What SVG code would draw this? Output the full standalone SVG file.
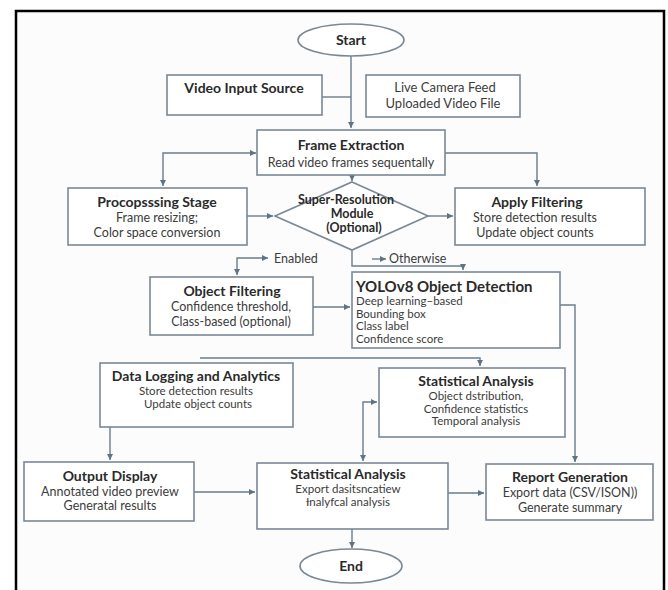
<svg xmlns="http://www.w3.org/2000/svg" width="668" height="590" viewBox="0 0 668 590">
<defs>
<marker id="ah" markerWidth="6" markerHeight="6" refX="6" refY="3" orient="auto-start-reverse" markerUnits="userSpaceOnUse"><path d="M0,0 L6,3 L0,6 z" fill="#5f7383"/></marker>
<style>
.box{fill:#fff;stroke:#7a8894;stroke-width:1.6}
.ln{fill:none;stroke:#6a7d8c;stroke-width:1.4}
.t{font-family:Lato,"Open Sans",sans-serif;font-weight:700;font-size:14px;fill:#2a2a2a;text-anchor:middle}
.s{font-family:Lato,"Open Sans",sans-serif;font-size:12.5px;fill:#3c3c3c;text-anchor:middle}
.c{font-size:11.5px}
.l{text-anchor:start}
</style>
</defs>
<rect x="0" y="0" width="668" height="590" fill="#ffffff"/>
<rect x="16" y="11" width="648" height="600" fill="#fcfcfc" stroke="#000" stroke-width="2.5"/>

<g id="connectors">
<path class="ln" d="M351,56 V128" marker-end="url(#ah)"/>
<path class="ln" d="M322,97 H351"/>
<path class="ln" d="M256,153 H163 V186" marker-start="url(#ah)" marker-end="url(#ah)"/>
<path class="ln" d="M445,153 H537 V186" marker-end="url(#ah)"/>
<path class="ln" d="M352,175 V181" marker-end="url(#ah)"/>
<path class="ln" d="M247,216 H273" marker-end="url(#ah)"/>
<path class="ln" d="M428,216 H453" marker-end="url(#ah)"/>
<path class="ln" d="M352,250 V266 H463 V270" marker-end="url(#ah)"/>
<path class="ln" d="M372,259 H386" marker-end="url(#ah)"/>
<path class="ln" d="M268,258 H237 V275" marker-start="url(#ah)" marker-end="url(#ah)"/>
<path class="ln" d="M313,307 H350" marker-end="url(#ah)"/>
<path class="ln" d="M560,305 H575 V462" marker-end="url(#ah)"/>
<path class="ln" d="M200,358 H480 V366" marker-end="url(#ah)"/>
<path class="ln" d="M377,402 H363 V461" marker-start="url(#ah)" marker-end="url(#ah)"/>
<path class="ln" d="M110,427 V460" marker-end="url(#ah)"/>
<path class="ln" d="M194,492 H255" marker-end="url(#ah)"/>
<path class="ln" d="M448,493 H484" marker-end="url(#ah)"/>
<path class="ln" d="M352,529 V548" marker-end="url(#ah)"/>
<text class="s l" x="389" y="263">Otherwise</text>
<text class="s l" x="274" y="263">Enabled</text>
</g>

<g id="start">
<ellipse cx="351" cy="40" rx="53" ry="16" class="box"/>
<text class="t" x="351" y="45">Start</text>
</g>

<g id="video-input">
<rect x="167" y="75" width="155" height="40" class="box"/>
<text class="t" x="244" y="93">Video Input Source</text>
</g>

<g id="live-camera">
<rect x="366" y="75" width="154" height="42" class="box"/>
<text class="s" x="445" y="92" style="font-size:13px">Live Camera Feed</text>
<text class="s" x="443" y="108" style="font-size:13px">Uploaded Video File</text>
</g>

<g id="frame-extraction">
<rect x="257" y="130" width="188" height="45" class="box"/>
<text class="t" x="351" y="150">Frame Extraction</text>
<text class="s" x="351" y="167">Read video frames sequentally</text>
</g>

<g id="preprocessing">
<rect x="68" y="188" width="179" height="57" class="box"/>
<text class="t" x="157" y="207">Procopsssing Stage</text>
<text class="s" x="157" y="222">Frame resizing;</text>
<text class="s" x="157" y="237">Color space conversion</text>
</g>

<g id="super-resolution">
<polygon points="352,182 428,216 352,250 275,216" class="box"/>
<text class="t" x="346" y="204" style="font-size:12.5px">Super-Resolution</text>
<text class="t" x="352" y="218" style="font-size:12.5px">Module</text>
<text class="t" x="354" y="232" style="font-size:12.5px">(Optional)</text>
</g>

<g id="apply-filtering">
<rect x="455" y="188" width="190" height="57" class="box"/>
<text class="t" x="537" y="207">Apply Filtering</text>
<text class="s" x="535" y="222">Store detection results</text>
<text class="s" x="535" y="237">Update object counts</text>
</g>

<g id="object-filtering">
<rect x="150" y="277" width="163" height="58" class="box"/>
<text class="t" x="232" y="296">Object Filtering</text>
<text class="s" x="231" y="311">Confidence threshold,</text>
<text class="s" x="231" y="326">Class-based (optional)</text>
</g>

<g id="yolo">
<rect x="352" y="272" width="208" height="76" class="box"/>
<text class="t l" x="356" y="292" style="font-size:15px">YOLOv8 Object Detection</text>
<text class="s c l" x="356" y="305">Deep learning–based</text>
<text class="s c l" x="356" y="317.5">Bounding box</text>
<text class="s c l" x="356" y="330">Class label</text>
<text class="s c l" x="356" y="342.5">Confidence score</text>
</g>

<g id="data-logging">
<rect x="100" y="363" width="193" height="64" class="box"/>
<text class="t" x="196" y="381">Data Logging and Analytics</text>
<text class="s c" x="196" y="395">Store detection results</text>
<text class="s c" x="198" y="408">Update object counts</text>
</g>

<g id="statistical-analysis-1">
<rect x="379" y="368" width="186" height="69" class="box"/>
<text class="t" x="476" y="386">Statistical Analysis</text>
<text class="s c" x="476" y="400">Object dstribution,</text>
<text class="s c" x="476" y="412.5">Confidence statistics</text>
<text class="s c" x="476" y="425">Temporal analysis</text>
</g>

<g id="output-display">
<rect x="24" y="462" width="170" height="59" class="box"/>
<text class="t" x="110" y="481">Output Display</text>
<text class="s" x="110" y="496">Annotated video preview</text>
<text class="s" x="110" y="510">Generatal results</text>
</g>

<g id="statistical-analysis-2">
<rect x="257" y="463" width="191" height="66" class="box"/>
<text class="t" x="348" y="479">Statistical Analysis</text>
<text class="s c" x="348" y="493">Export dasitsncatiew</text>
<text class="s c" x="348" y="506">Ɨnalyfcal analysis</text>
</g>

<g id="report-generation">
<rect x="486" y="464" width="167" height="56" class="box"/>
<text class="t" x="570" y="482">Report Generation</text>
<text class="s" x="570" y="497">Export data (CSV/ISON))</text>
<text class="s" x="570" y="512">Generate summary</text>
</g>

<g id="end">
<ellipse cx="351" cy="566" rx="51" ry="17" class="box"/>
<text class="t" x="351" y="571">End</text>
</g>
</svg>
